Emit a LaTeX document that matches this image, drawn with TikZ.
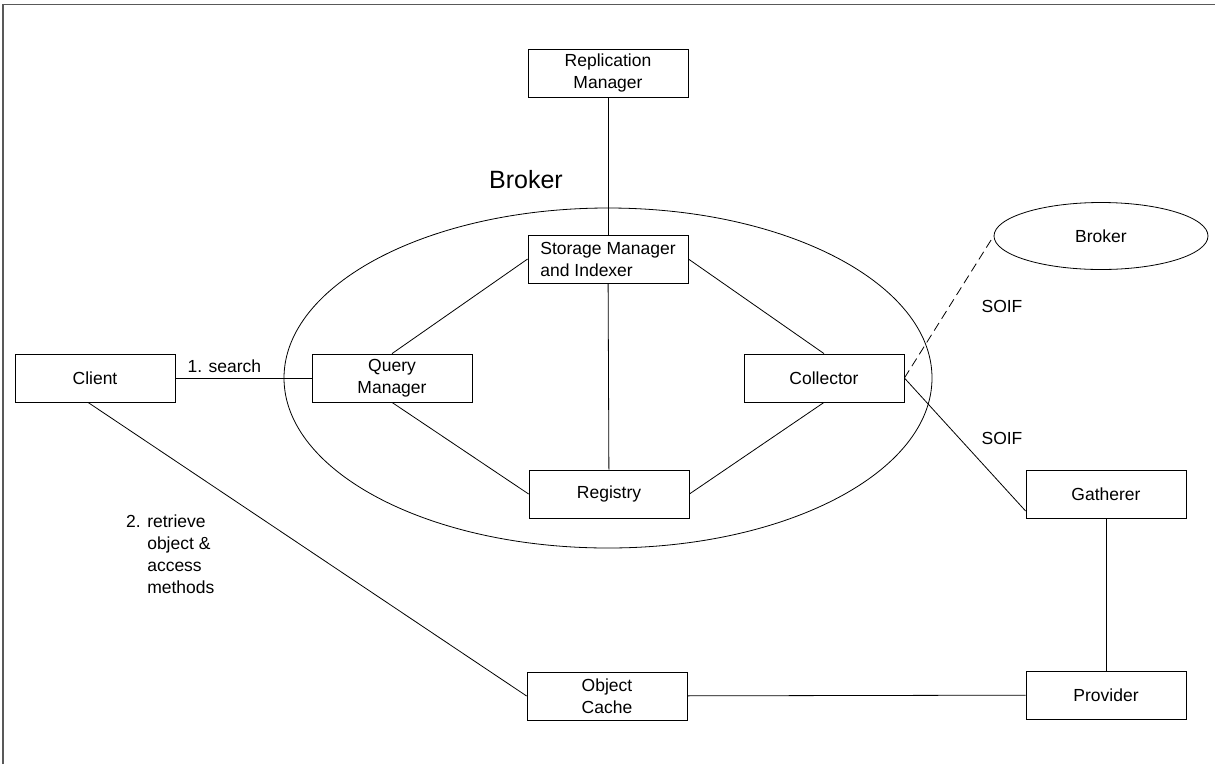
\documentclass[tikz,border=0pt]{standalone}
\usepackage{fontspec}
\setmainfont{Liberation Sans}
\usetikzlibrary{shapes.geometric}

\begin{document}
\begin{tikzpicture}[
    x=1pt, y=-1pt,
    box/.style={rectangle, draw, fill=white, line width=0.8pt, minimum width=160pt, minimum height=48pt, inner sep=2pt, font=\fontsize{17.5}{22}\selectfont, align=center},
    peer/.style={ellipse, draw, line width=0.8pt, minimum width=214pt, minimum height=67pt, inner sep=0pt, font=\fontsize{17.5}{22}\selectfont},
    link/.style={line width=0.8pt},
    lbl/.style={font=\fontsize{17.5}{22}\selectfont, inner sep=0pt}
]
    \useasboundingbox (0,0) rectangle (1215,764);

    % Page frame (left and top edges only)
    \draw[gray!70!black, line width=1.6pt] (3,764) -- (3,4.5) -- (1215,4.5);

    % Broker boundary
    \draw[line width=0.8pt] (608,378) ellipse [x radius=324, y radius=170];
    \node[font=\fontsize{25}{30}\selectfont, inner sep=0pt] (brokertitle) at (526,180) {Broker};

    % Components
    \node[box] (repl) at (608,73) {Replication\\Manager};
    \node[box, align=left] (storage) at (608,259) {Storage Manager\\and Indexer};
    \node[box] (query) at (392,378) {Query\\Manager};
    \node[box] (collector) at (824,378) {Collector};
    \node[box] (registry) at (609,494) {Registry};
    \node[box] (client) at (95,378) {Client};
    \node[box] (cache) at (607,696) {Object\\Cache};
    \node[box] (gatherer) at (1106,494) {Gatherer};
    \node[box] (provider) at (1106,695) {Provider};
    \node[peer] (peerbroker) at (1101,236) {Broker};

    % Links inside the broker
    \draw[link] (repl) -- (storage);
    \draw[link] (query.north) -- (storage.west);
    \draw[link] (query.south) -- (registry.west);
    \draw[link] (storage) -- (registry);
    \draw[link] (storage.east) -- (collector.north);
    \draw[link] (collector.south) -- (registry.east);

    % Client side
    \draw[link] (client) -- node[lbl, above=5pt, pos=0.36] {1. search} (query);
    \draw[link] ([xshift=-7pt]client.south) -- (cache.west);
    \node[lbl, anchor=base west] (retrieve) at (126,527)
        {\begin{tabular}[t]{@{}l@{ }l@{}}2. & retrieve\\ & object \&\\ & access\\ & methods\end{tabular}};

    % Collection side
    \draw[link, dash pattern=on 9pt off 5pt] (collector.east) -- (peerbroker.west);
    \draw[link] (collector.east) -- ([yshift=-17pt]gatherer.west);
    \draw[link] (gatherer) -- (provider);
    \draw[link] (cache) -- (provider);
    \node[lbl] (soifpeer) at (1002,306) {SOIF};
    \node[lbl] (soifgather) at (1002,438) {SOIF};
\end{tikzpicture}
\end{document}
